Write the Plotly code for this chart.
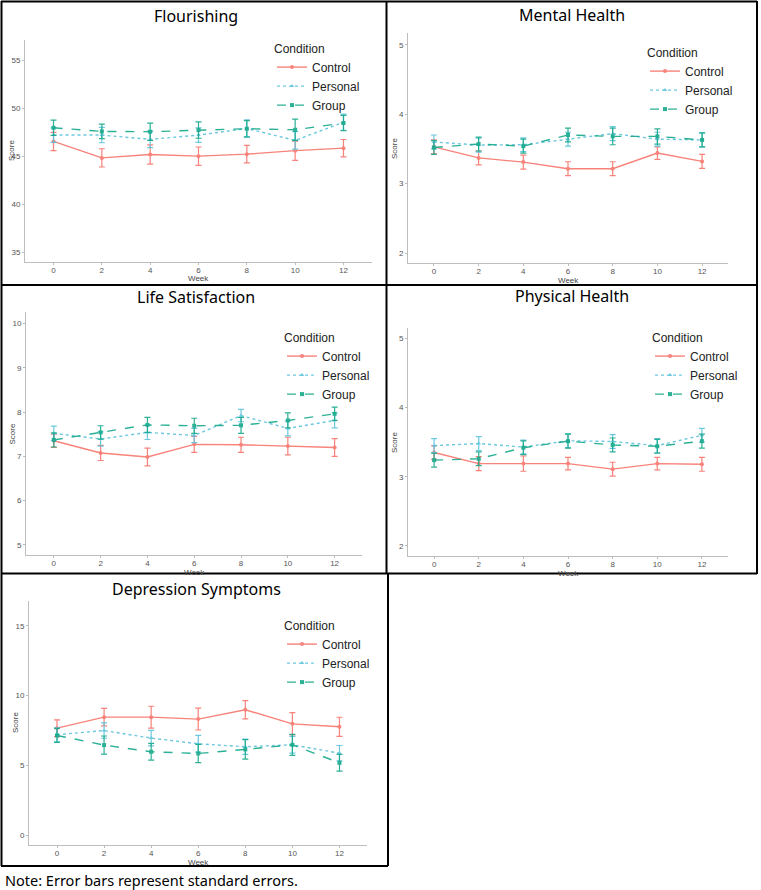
import plotly.graph_objects as go

W, H = 761, 890

weeks = [0, 2, 4, 6, 8, 10, 12]
conditions = ["Control", "Personal", "Group"]

panel_titles = ["Flourishing", "Mental Health", "Life Satisfaction", "Physical Health", "Depression Symptoms"]

flour_control = [46.56, 44.85, 45.2, 45.03, 45.24, 45.6, 45.86]
flour_personal = [47.22, 47.22, 46.77, 47.22, 47.9, 46.67, 48.55]
flour_group = [47.98, 47.6, 47.57, 47.74, 47.88, 47.77, 48.47]
flour_control_se = [0.95, 0.95, 1.0, 0.95, 0.9, 1.0, 0.9]
flour_personal_se = [0.75, 0.8, 0.85, 0.75, 0.9, 0.9, 0.85]
flour_group_se = [0.8, 0.75, 0.9, 0.85, 0.85, 1.1, 0.8]

mental_control = [3.53, 3.37, 3.31, 3.215, 3.215, 3.44, 3.32]
mental_personal = [3.60, 3.555, 3.56, 3.64, 3.72, 3.64, 3.63]
mental_group = [3.52, 3.57, 3.54, 3.70, 3.68, 3.68, 3.63]
mental_control_se = [0.1, 0.1, 0.1, 0.1, 0.1, 0.09, 0.1]
mental_personal_se = [0.1, 0.1, 0.1, 0.1, 0.1, 0.1, 0.1]
mental_group_se = [0.1, 0.1, 0.1, 0.1, 0.12, 0.11, 0.1]

life_control = [7.35, 7.075, 6.985, 7.27, 7.26, 7.23, 7.2]
life_personal = [7.52, 7.39, 7.54, 7.47, 7.92, 7.63, 7.81]
life_group = [7.37, 7.54, 7.71, 7.69, 7.70, 7.81, 7.96]
life_control_se = [0.15, 0.17, 0.2, 0.18, 0.17, 0.2, 0.2]
life_personal_se = [0.16, 0.16, 0.16, 0.16, 0.14, 0.17, 0.17]
life_group_se = [0.16, 0.15, 0.17, 0.17, 0.18, 0.17, 0.15]

phys_control = [3.35, 3.19, 3.19, 3.19, 3.11, 3.19, 3.18]
phys_personal = [3.45, 3.48, 3.43, 3.52, 3.51, 3.45, 3.60]
phys_group = [3.24, 3.26, 3.42, 3.515, 3.46, 3.44, 3.515]
phys_control_se = [0.1, 0.1, 0.11, 0.09, 0.1, 0.09, 0.1]
phys_personal_se = [0.1, 0.1, 0.1, 0.1, 0.1, 0.1, 0.1]
phys_group_se = [0.1, 0.1, 0.1, 0.1, 0.1, 0.1, 0.1]

dep_control = [7.67, 8.46, 8.46, 8.32, 8.99, 7.98, 7.77]
dep_personal = [7.2, 7.5, 6.96, 6.55, 6.34, 6.48, 5.88]
dep_group = [7.15, 6.46, 5.98, 5.86, 6.15, 6.48, 5.19]
dep_control_se = [0.6, 0.62, 0.78, 0.78, 0.65, 0.8, 0.68]
dep_personal_se = [0.5, 0.55, 0.55, 0.6, 0.55, 0.6, 0.55]
dep_group_se = [0.5, 0.65, 0.6, 0.65, 0.7, 0.75, 0.6]

y_ticks = [[35, 40, 45, 50, 55], [2, 3, 4, 5], [5, 6, 7, 8, 9, 10], [2, 3, 4, 5], [0, 5, 10, 15]]
x_ticks = [0, 2, 4, 6, 8, 10, 12]

panel_data = [
    ([flour_control, flour_personal, flour_group], [flour_control_se, flour_personal_se, flour_group_se]),
    ([mental_control, mental_personal, mental_group], [mental_control_se, mental_personal_se, mental_group_se]),
    ([life_control, life_personal, life_group], [life_control_se, life_personal_se, life_group_se]),
    ([phys_control, phys_personal, phys_group], [phys_control_se, phys_personal_se, phys_group_se]),
    ([dep_control, dep_personal, dep_group], [dep_control_se, dep_personal_se, dep_group_se]),
]

# layout geometry (pixels)
plot_boxes = [  # x0, x1, y0(top), y1(bottom)
    (25, 372, 40, 262),
    (408, 728, 33, 263),
    (26, 362, 312, 555),
    (408, 728, 328, 556),
    (29, 367, 601, 845),
]
y_ranges = [(34.03, 57.1), (1.856, 5.17), (4.77, 10.26), (1.855, 5.15), (-0.69, 16.77)]
x_ranges = [(-1.18, 13.18), (-1.16, 13.16), (-1.19, 13.17), (-1.17, 13.17), (-1.19, 13.17)]
title_pos = [(196, 16), (572, 15), (196, 297), (572, 296), (196, 589)]
legend_pos = [(272, 37), (645, 41), (282, 326), (650, 326), (282, 614)]

colors = {"Control": "#F8766D", "Personal": "#5CC3DC", "Group": "#17A98B"}
dashes = {"Control": "solid", "Personal": "dot", "Group": "dash"}
symbols = {"Control": "circle", "Personal": "triangle-up", "Group": "square"}


def px(x):
    return x / W


def py(y):
    return 1 - y / H


fig = go.Figure()
annotations = []
layout = {}

for i in range(5):
    n = "" if i == 0 else str(i + 1)
    xa, ya = "x" + n, "y" + n
    leg = "legend" + n
    vals, ses = panel_data[i]
    for c, v, s in zip(conditions, vals, ses):
        fig.add_trace(go.Scatter(
            x=weeks, y=v, name=c, mode="lines+markers",
            xaxis=xa, yaxis=ya, legend=leg,
            line=dict(color=colors[c], width=1.4, dash=dashes[c]),
            marker=dict(color=colors[c], size=4, symbol=symbols[c]),
            error_y=dict(type="data", array=s, visible=True, color=colors[c], thickness=1.2, width=3),
            opacity=0.9,
        ))
    x0, x1, y0, y1 = plot_boxes[i]
    axis_common = dict(showline=True, linecolor="#BDBDBD", linewidth=1, ticks="outside", ticklen=2,
                       tickcolor="#BDBDBD", tickfont=dict(size=8, color="#555555", family="Liberation Sans"),
                       showgrid=False, zeroline=False)
    layout["xaxis" + n] = dict(domain=[px(x0), px(x1)], anchor=ya, range=list(x_ranges[i]),
                               tickvals=x_ticks, ticklabelstandoff=-2, **axis_common)
    layout["yaxis" + n] = dict(domain=[py(y1), py(y0)], anchor=xa, range=list(y_ranges[i]),
                               tickvals=y_ticks[i], **axis_common)
    lx, ly = legend_pos[i]
    layout[leg] = dict(x=px(lx), y=py(ly), xanchor="left", yanchor="top",
                       title=dict(text="Condition", font=dict(size=12, color="#222")),
                       font=dict(size=12, color="#222", family="Liberation Sans"),
                       bgcolor="rgba(0,0,0,0)", tracegroupgap=0, itemwidth=30)
    tx, ty = title_pos[i]
    annotations.append(dict(text=panel_titles[i], x=px(tx), y=py(ty), xref="paper", yref="paper",
                            showarrow=False, xanchor="center", yanchor="middle",
                            font=dict(size=16, color="black", family="Noto Sans")))
    annotations.append(dict(text="Score", x=px(x0 - 14), y=py((y0 + y1) / 2), xref="paper", yref="paper",
                            showarrow=False, textangle=-90, xanchor="center", yanchor="middle",
                            font=dict(size=8, color="#444", family="Liberation Sans")))
    annotations.append(dict(text="Week", x=px((x0 + x1) / 2), y=py(y1 + 17), xref="paper", yref="paper",
                            showarrow=False, xanchor="center", yanchor="middle",
                            font=dict(size=8, color="#444", family="Liberation Sans")))

annotations.append(dict(text="Note: Error bars represent standard errors.", x=px(3), y=py(880),
                        xref="paper", yref="paper", showarrow=False, xanchor="left", yanchor="middle",
                        font=dict(size=14.5, color="black", family="Noto Sans")))

# panel borders
border_lines = [
    (1, 1.5, 757, 1.5),
    (1.5, 1, 1.5, 866),
    (386.5, 1, 386.5, 574),
    (757, 1, 757, 574),
    (1, 285, 757, 285),
    (1, 573.5, 757, 573.5),
    (388, 573.5, 388, 866),
    (1, 866, 388, 866),
]
shapes = [dict(type="line", xref="paper", yref="paper", x0=px(a), y0=py(b), x1=px(c), y1=py(d),
               line=dict(color="black", width=2)) for a, b, c, d in border_lines]

fig.update_layout(width=W, height=H, margin=dict(l=0, r=0, t=0, b=0),
                  paper_bgcolor="white", plot_bgcolor="white",
                  annotations=annotations, shapes=shapes, **layout)

fig.write_html("out.html", config={"displayModeBar": False},
               post_script="document.body.style.margin='0';")
